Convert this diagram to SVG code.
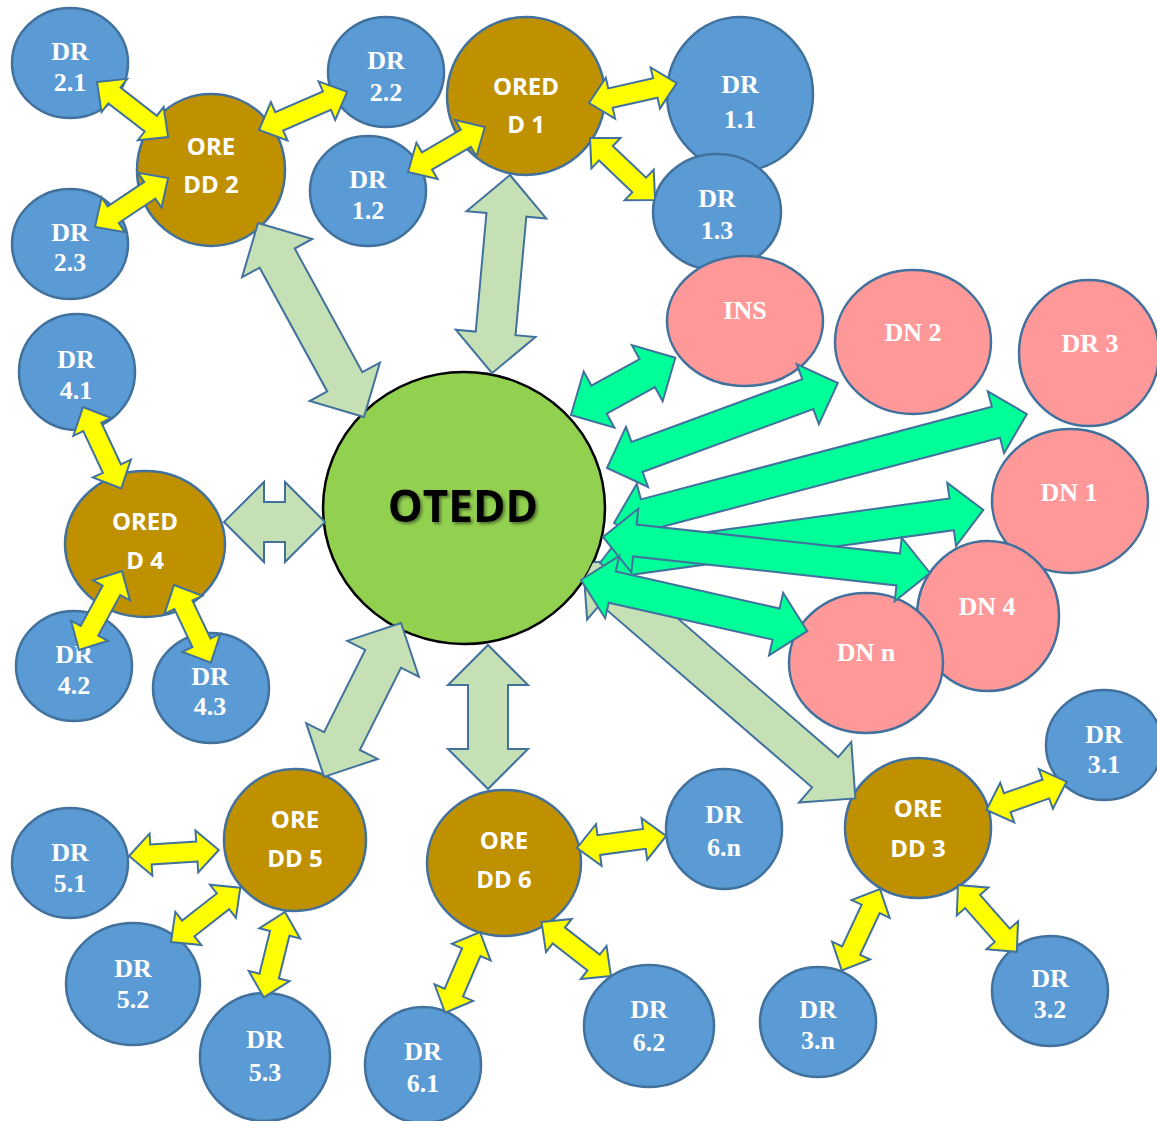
<svg xmlns="http://www.w3.org/2000/svg" width="1157" height="1121" viewBox="0 0 1157 1121">
<style>
.dr{fill:#5B9BD5;stroke:#41719C;stroke-width:2.5}
.ore{fill:#BF9000;stroke:#41719C;stroke-width:2.5}
.dn{fill:#FF9999;stroke:#41719C;stroke-width:2.5}
.core{fill:#92D050;stroke:#000;stroke-width:2.5}
.ts{font-family:"Liberation Serif","Times New Roman",serif;font-weight:bold;font-size:26px;fill:#fff;text-anchor:middle}
.tc{font-family:"Open Sans","Liberation Sans",sans-serif;font-weight:bold;font-size:24px;fill:#fff;text-anchor:middle}
.tm{font-family:"Open Sans","Liberation Sans",sans-serif;font-weight:bold;font-size:44px;fill:#000;text-anchor:middle}
.ay{fill:#FFFF00;stroke:#41719C;stroke-width:2}
.ag{fill:#C5E0B4;stroke:#41719C;stroke-width:2}
.at{fill:#00FF99;stroke:#41719C;stroke-width:2}
</style>
<defs>
<filter id="shadow" x="-10%" y="-20%" width="130%" height="150%">
<feDropShadow dx="2" dy="2" stdDeviation="1.5" flood-color="#000" flood-opacity="0.45"/>
</filter>
<clipPath id="outsideCore">
<path clip-rule="evenodd" d="M0 0H1157V1121H0Z M323,508 a141,136 0 1,0 282,0 a141,136 0 1,0 -282,0Z"/>
</clipPath>
</defs>
<rect width="1157" height="1121" fill="#fff"/>

<g id="nodes">
<g id="dr-2-1"><ellipse class="dr" cx="70" cy="63" rx="58" ry="55"/><text class="ts"><tspan x="70" y="60">DR</tspan><tspan x="70" y="91">2.1</tspan></text></g>
<g id="dr-2-2"><ellipse class="dr" cx="386" cy="72" rx="58" ry="55"/><text class="ts"><tspan x="386" y="69">DR</tspan><tspan x="386" y="101">2.2</tspan></text></g>
<g id="dr-1-2"><ellipse class="dr" cx="368" cy="191" rx="58" ry="55"/><text class="ts"><tspan x="368" y="188">DR</tspan><tspan x="368" y="219">1.2</tspan></text></g>
<g id="dr-2-3"><ellipse class="dr" cx="70" cy="244" rx="58" ry="55"/><text class="ts"><tspan x="70" y="241">DR</tspan><tspan x="70" y="271">2.3</tspan></text></g>
<g id="oredd-2"><ellipse class="ore" cx="211" cy="170" rx="74" ry="76"/><text class="tc"><tspan x="211" y="155">ORE</tspan><tspan x="211" y="193">DD 2</tspan></text></g>
<g id="oredd-1"><ellipse class="ore" cx="526" cy="96" rx="79" ry="79"/><text class="tc"><tspan x="526" y="95">ORED</tspan><tspan x="526" y="133">D 1</tspan></text></g>
<g id="dr-1-1"><ellipse class="dr" cx="740" cy="94" rx="73" ry="77"/><text class="ts"><tspan x="740" y="93">DR</tspan><tspan x="740" y="128">1.1</tspan></text></g>
<g id="dr-1-3"><ellipse class="dr" cx="717" cy="212" rx="64" ry="58"/><text class="ts"><tspan x="717" y="207">DR</tspan><tspan x="717" y="239">1.3</tspan></text></g>
<g id="ins"><ellipse class="dn" cx="745" cy="321" rx="78" ry="65"/><text class="ts" x="745" y="319">INS</text></g>
<g id="dn-2"><ellipse class="dn" cx="913" cy="342" rx="78" ry="72"/><text class="ts" x="913" y="341">DN 2</text></g>
<g id="dr-3"><ellipse class="dn" cx="1089" cy="353" rx="70" ry="73"/><text class="ts" x="1090" y="352">DR 3</text></g>
<g id="dn-1"><ellipse class="dn" cx="1070" cy="501" rx="78" ry="72"/><text class="ts" x="1069" y="501">DN 1</text></g>
<g id="dn-4"><ellipse class="dn" cx="988" cy="616" rx="71" ry="75"/><text class="ts" x="987" y="615">DN 4</text></g>
<g id="dn-n"><ellipse class="dn" cx="866" cy="663" rx="77" ry="70"/><text class="ts" x="866" y="661">DN n</text></g>
<g id="otedd"><ellipse class="core" cx="464" cy="508" rx="141" ry="136"/><text class="tm" x="463" y="522" filter="url(#shadow)">OTEDD</text></g>
<g id="dr-4-1"><ellipse class="dr" cx="77" cy="372" rx="58" ry="58"/><text class="ts"><tspan x="76" y="368">DR</tspan><tspan x="76" y="399">4.1</tspan></text></g>
<g id="oredd-4"><ellipse class="ore" cx="145" cy="544" rx="80" ry="73"/><text class="tc"><tspan x="145" y="530">ORED</tspan><tspan x="145" y="569">D 4</tspan></text></g>
<g id="dr-4-2"><ellipse class="dr" cx="74" cy="666" rx="58" ry="55"/><text class="ts"><tspan x="74" y="663">DR</tspan><tspan x="74" y="694">4.2</tspan></text></g>
<g id="dr-4-3"><ellipse class="dr" cx="211" cy="688" rx="58" ry="55"/><text class="ts"><tspan x="210" y="685">DR</tspan><tspan x="210" y="715">4.3</tspan></text></g>
<g id="dr-5-1"><ellipse class="dr" cx="70" cy="863" rx="58" ry="55"/><text class="ts"><tspan x="70" y="861">DR</tspan><tspan x="70" y="892">5.1</tspan></text></g>
<g id="oredd-5"><ellipse class="ore" cx="295" cy="840" rx="71" ry="71"/><text class="tc"><tspan x="295" y="828">ORE</tspan><tspan x="295" y="867">DD 5</tspan></text></g>
<g id="dr-5-2"><ellipse class="dr" cx="133" cy="984" rx="67" ry="61"/><text class="ts"><tspan x="133" y="977">DR</tspan><tspan x="133" y="1008">5.2</tspan></text></g>
<g id="dr-5-3"><ellipse class="dr" cx="265" cy="1057" rx="65" ry="64"/><text class="ts"><tspan x="265" y="1048">DR</tspan><tspan x="265" y="1081">5.3</tspan></text></g>
<g id="oredd-6"><ellipse class="ore" cx="504" cy="863" rx="77" ry="73"/><text class="tc"><tspan x="504" y="849">ORE</tspan><tspan x="504" y="888">DD 6</tspan></text></g>
<g id="dr-6-1"><ellipse class="dr" cx="423" cy="1065" rx="58" ry="58"/><text class="ts"><tspan x="423" y="1060">DR</tspan><tspan x="423" y="1092">6.1</tspan></text></g>
<g id="dr-6-n"><ellipse class="dr" cx="724" cy="829" rx="58" ry="60"/><text class="ts"><tspan x="724" y="823">DR</tspan><tspan x="724" y="856">6.n</tspan></text></g>
<g id="dr-6-2"><ellipse class="dr" cx="649" cy="1026" rx="65" ry="61"/><text class="ts"><tspan x="649" y="1018">DR</tspan><tspan x="649" y="1051">6.2</tspan></text></g>
<g id="oredd-3"><ellipse class="ore" cx="918" cy="828" rx="73" ry="70"/><text class="tc"><tspan x="918" y="817">ORE</tspan><tspan x="918" y="857">DD 3</tspan></text></g>
<g id="dr-3-1"><ellipse class="dr" cx="1104" cy="745" rx="58" ry="55"/><text class="ts"><tspan x="1104" y="743">DR</tspan><tspan x="1104" y="773">3.1</tspan></text></g>
<g id="dr-3-n"><ellipse class="dr" cx="818" cy="1022" rx="58" ry="55"/><text class="ts"><tspan x="818" y="1018">DR</tspan><tspan x="818" y="1049">3.n</tspan></text></g>
<g id="dr-3-2"><ellipse class="dr" cx="1050" cy="991" rx="58" ry="55"/><text class="ts"><tspan x="1050" y="987">DR</tspan><tspan x="1050" y="1018">3.2</tspan></text></g>
</g>

<g id="connectors">
<g clip-path="url(#outsideCore)"><polygon class="ag" transform="translate(583,563) rotate(40.83)" points="0,0 40,-40 40,-20 320,-20 320,-40 360,0 320,40 320,20 40,20 40,40"/></g>
<polygon class="ag" transform="translate(224,522)" points="0,0 40,-40 40,-20 61,-20 61,-40 101,0 61,40 61,20 40,20 40,40"/>
<polygon class="ag" transform="translate(258,223) rotate(61.35)" points="0,0 40,-40 40,-20 181,-20 181,-40 221,0 181,40 181,20 40,20 40,40"/>
<polygon class="ag" transform="translate(510,175) rotate(95.19)" points="0,0 40,-40 40,-20 159,-20 159,-40 199,0 159,40 159,20 40,20 40,40"/>
<polygon class="ag" transform="translate(401,623) rotate(116.57)" points="0,0 40,-40 40,-20 132,-20 132,-40 172,0 132,40 132,20 40,20 40,40"/>
<polygon class="ag" transform="translate(488,645) rotate(90)" points="0,0 40,-40 40,-20 104,-20 104,-40 144,0 104,40 104,20 40,20 40,40"/>

<polygon class="at" transform="translate(571,415) rotate(-28.73)" points="0,0 32,-32 32,-16 87,-16 87,-32 119,0 87,32 87,16 32,16 32,32"/>
<polygon class="at" transform="translate(607,468) rotate(-20.2)" points="0,0 32,-32 32,-16 214,-16 214,-32 246,0 214,32 214,16 32,16 32,32"/>
<polygon class="at" transform="translate(614,523) rotate(-14.78)" points="0,0 32,-32 32,-16 395,-16 395,-32 427,0 395,32 395,16 32,16 32,32"/>
<polygon class="at" transform="translate(600,563) rotate(-7.88)" points="0,0 32,-32 32,-16 355,-16 355,-32 387,0 355,32 355,16 32,16 32,32"/>
<polygon class="at" transform="translate(603,537) rotate(6.28)" points="0,0 32,-32 32,-16 297,-16 297,-32 329,0 297,32 297,16 32,16 32,32"/>
<polygon class="at" transform="translate(581,580) rotate(12.72)" points="0,0 32,-32 32,-16 200,-16 200,-32 232,0 200,32 200,16 32,16 32,32"/>

<polygon class="ay" transform="translate(97,82) rotate(37.76)" points="0,0 22,-21 22,-10 68,-10 68,-21 90,0 68,21 68,10 22,10 22,21"/>
<polygon class="ay" transform="translate(95,227) rotate(-33.87)" points="0,0 22,-21 22,-10 66,-10 66,-21 88,0 66,21 66,10 22,10 22,21"/>
<polygon class="ay" transform="translate(259,130) rotate(-23.36)" points="0,0 22,-21 22,-10 74,-10 74,-21 96,0 74,21 74,10 22,10 22,21"/>
<polygon class="ay" transform="translate(408,172) rotate(-30.3)" points="0,0 22,-21 22,-10 67,-10 67,-21 89,0 67,21 67,10 22,10 22,21"/>
<polygon class="ay" transform="translate(589,103) rotate(-12.8)" points="0,0 22,-21 22,-10 68,-10 68,-21 90,0 68,21 68,10 22,10 22,21"/>
<polygon class="ay" transform="translate(590,138) rotate(43.65)" points="0,0 22,-21 22,-10 68,-10 68,-21 90,0 68,21 68,10 22,10 22,21"/>
<polygon class="ay" transform="translate(83,407) rotate(64.87)" points="0,0 22,-21 22,-10 68,-10 68,-21 90,0 68,21 68,10 22,10 22,21"/>
<polygon class="ay" transform="translate(122,571) rotate(118.56)" points="0,0 22,-21 22,-10 68,-10 68,-21 90,0 68,21 68,10 22,10 22,21"/>
<polygon class="ay" transform="translate(174,585) rotate(64.62)" points="0,0 22,-21 22,-10 64,-10 64,-21 86,0 64,21 64,10 22,10 22,21"/>
<polygon class="ay" transform="translate(129,856) rotate(-3.81)" points="0,0 22,-21 22,-10 68,-10 68,-21 90,0 68,21 68,10 22,10 22,21"/>
<polygon class="ay" transform="translate(171,942) rotate(-38.05)" points="0,0 22,-21 22,-10 66,-10 66,-21 88,0 66,21 66,10 22,10 22,21"/>
<polygon class="ay" transform="translate(285,912) rotate(103.88)" points="0,0 22,-21 22,-10 66,-10 66,-21 88,0 66,21 66,10 22,10 22,21"/>
<polygon class="ay" transform="translate(480,932) rotate(113.37)" points="0,0 22,-21 22,-10 66,-10 66,-21 88,0 66,21 66,10 22,10 22,21"/>
<polygon class="ay" transform="translate(541.5,922) rotate(37.85)" points="0,0 22,-21 22,-10 66,-10 66,-21 88,0 66,21 66,10 22,10 22,21"/>
<polygon class="ay" transform="translate(577,848) rotate(-7.68)" points="0,0 22,-21 22,-10 68,-10 68,-21 90,0 68,21 68,10 22,10 22,21"/>
<polygon class="ay" transform="translate(986.5,810) rotate(-19.48)" points="0,0 22,-21 22,-10 63,-10 63,-21 85,0 63,21 63,10 22,10 22,21"/>
<polygon class="ay" transform="translate(880,889) rotate(115.13)" points="0,0 22,-21 22,-10 68,-10 68,-21 90,0 68,21 68,10 22,10 22,21"/>
<polygon class="ay" transform="translate(958,885) rotate(48.63)" points="0,0 22,-21 22,-10 67,-10 67,-21 89,0 67,21 67,10 22,10 22,21"/>
</g>
</svg>
